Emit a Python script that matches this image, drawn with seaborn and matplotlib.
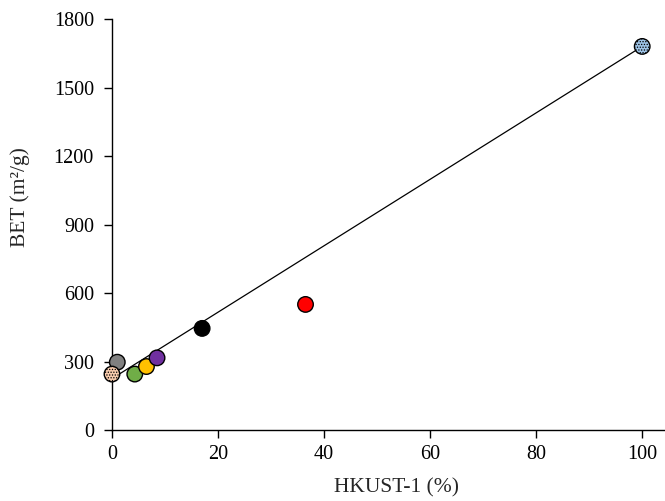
import pandas as pd
import matplotlib
matplotlib.use("Agg")
import matplotlib.pyplot as plt
import seaborn as sns

# --- data ---
hkust = [0, 1, 4.3, 6.5, 8.5, 17, 36.5, 100]
bet = [245, 297, 245, 278, 316, 445, 550, 1680]
colors = ["#F8CBAD", "#808080", "#70AD47", "#FFC000", "#7030A0", "#000000", "#FF0000", "#9DC3E6"]
hatched = [True, False, False, False, False, False, False, True]
trend_x = [0, 100]
trend_y = [225, 1680]

sns.set_style("ticks")
plt.rcParams["font.family"] = ["Liberation Serif", "DejaVu Serif"]
plt.rcParams["hatch.color"] = "white"
plt.rcParams["hatch.linewidth"] = 0.6

df = pd.DataFrame({"x": hkust, "y": bet, "c": colors, "h": hatched})
df["id"] = range(len(df))

fig = plt.figure(figsize=(6.65, 5.01), dpi=100)
ax = fig.add_axes([0.1684, 0.1417, 0.8316, 0.8203])

sns.lineplot(x=trend_x, y=trend_y, ax=ax, color="black", linewidth=0.9, zorder=1)

plain = df[~df["h"]]
sns.scatterplot(data=plain, x="x", y="y", hue="id", palette=list(plain["c"]),
                s=125, edgecolor="black", linewidth=1, legend=False, ax=ax, zorder=3)
hat = df[df["h"]]
sns.scatterplot(data=hat, x="x", y="y", hue="id", palette=list(hat["c"]),
                s=125, edgecolor="black", linewidth=1, legend=False, ax=ax, zorder=3)
ax.collections[-1].set_hatch("......")

ax.set_xlim(0, 104.3)
ax.set_ylim(0, 1800)
ax.set_xticks(range(0, 101, 20))
ax.set_yticks(range(0, 1801, 300))
for s in ["top", "right"]:
    ax.spines[s].set_visible(False)
for s in ["left", "bottom"]:
    ax.spines[s].set_linewidth(1.0)
    ax.spines[s].set_color("black")
ax.tick_params(direction="out", length=6, width=1, labelsize=14.5, colors="black")
ax.tick_params(axis="y", pad=7)
ax.tick_params(axis="x", pad=5)
ax.set_xlabel("HKUST-1 (%)", fontsize=15.5)
ax.set_ylabel("BET (m²/g)", fontsize=15.5)
ax.xaxis.set_label_coords(0.515, -0.118)
ax.yaxis.set_label_coords(-0.148, 0.567)
for c in ax.collections:
    c.set_clip_on(False)

fig.savefig("out.png", dpi=100)
